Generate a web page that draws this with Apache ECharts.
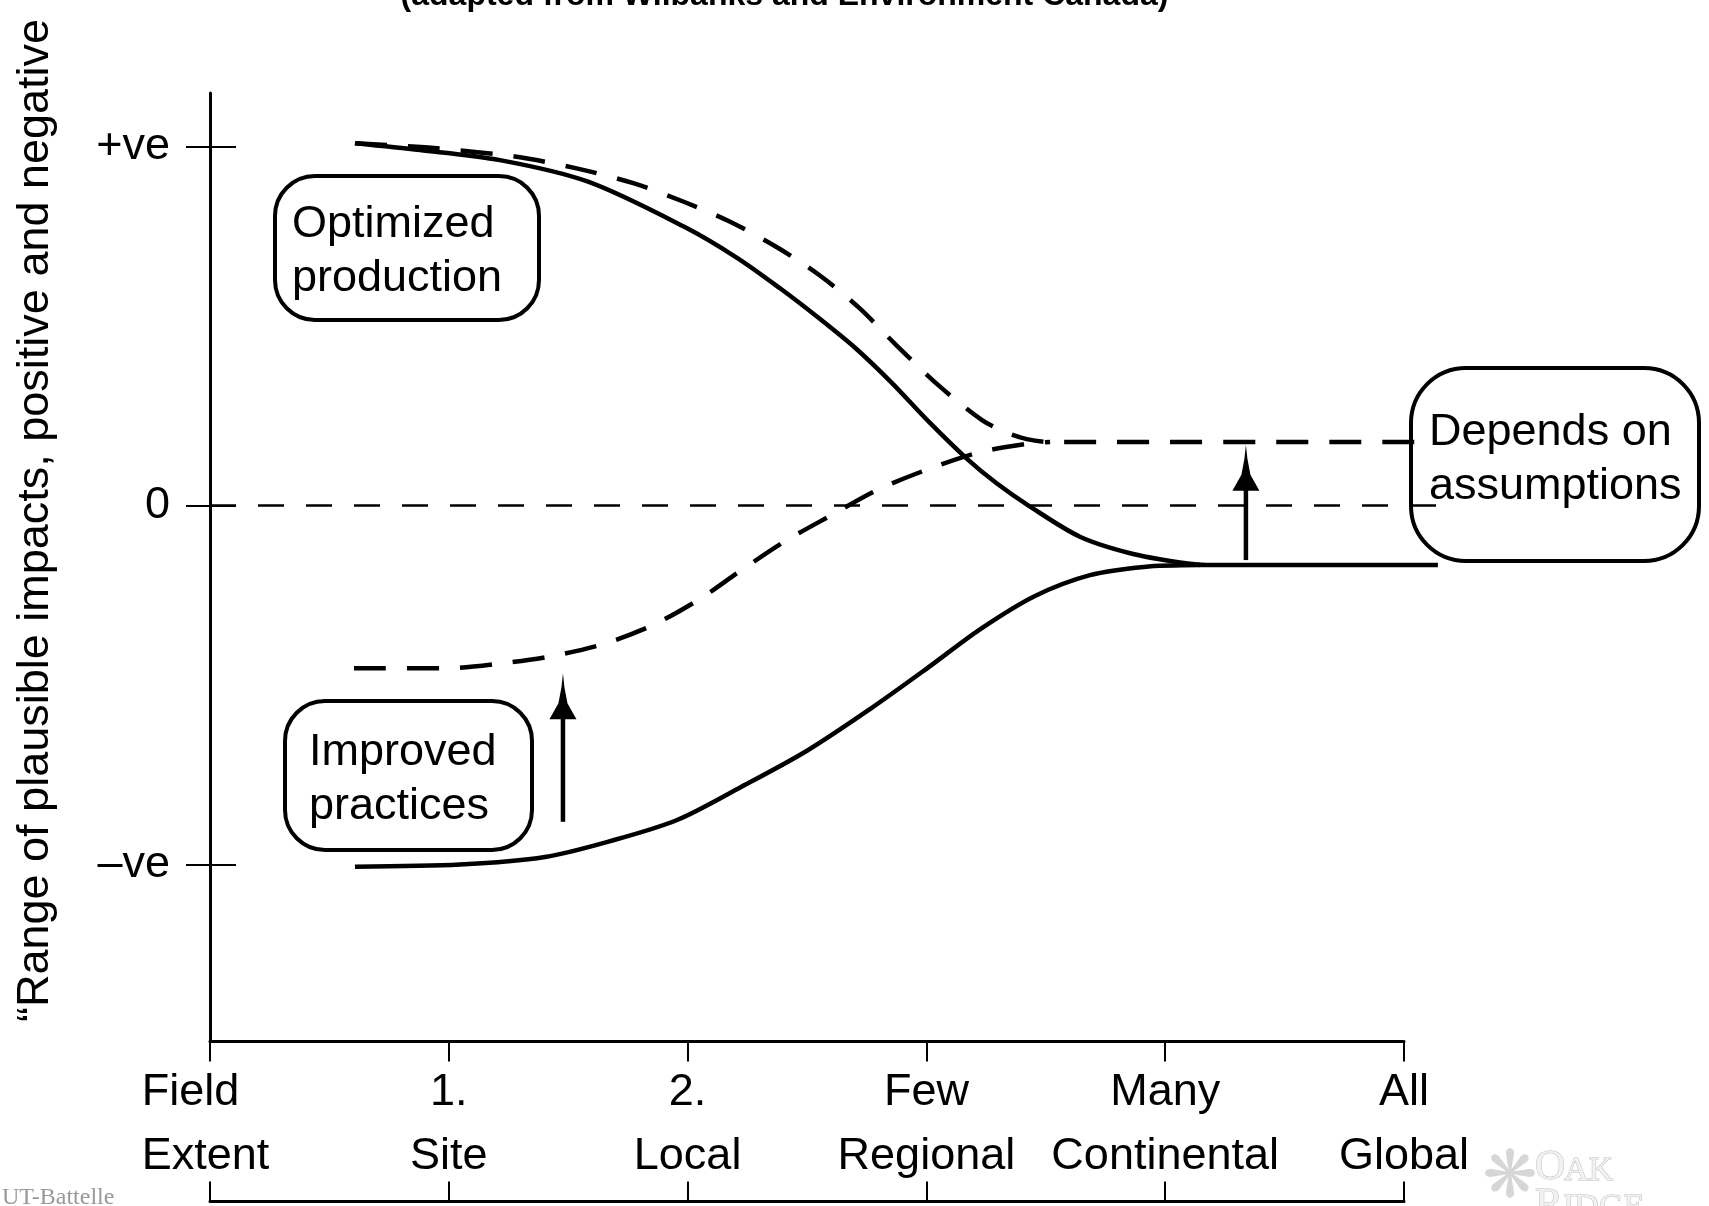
<!DOCTYPE html>
<html><head><meta charset="utf-8">
<script src="https://cdn.jsdelivr.net/npm/echarts@6/dist/echarts.min.js"></script>
<style>html,body{margin:0;padding:0;background:#fff}#c{width:1709px;height:1206px}</style>
</head><body><div id="c"></div>
<script>
// ---- data ----
const catTop = ['Field', '1.', '2.', 'Few', 'Many', 'All'];
const catBottom = ['Extent', 'Site', 'Local', 'Regional', 'Continental', 'Global'];
const yTickValues = [-1, 0, 1];
const yTickLabels = ['–ve', '0', '+ve'];

const optimizedSolid = [[0.607,1.009],[0.879,0.99],[1.214,0.962],[1.583,0.902],[1.984,0.777],[2.207,0.69],[2.387,0.605],[2.544,0.525],[2.7,0.44],[2.85,0.345],[3.015,0.23],[3.17,0.13],[3.294,0.062],[3.434,-0.003],[3.643,-0.087],[3.853,-0.133],[4.062,-0.159],[4.174,-0.166],[5.142,-0.166]];
const optimizedDashed = [[0.607,1.009],[0.95,0.995],[1.277,0.972],[1.535,0.939],[1.776,0.897],[1.984,0.846],[2.176,0.791],[2.383,0.716],[2.561,0.637],[2.721,0.549],[2.881,0.442],[3.057,0.331],[3.233,0.238],[3.33,0.205],[3.42,0.185],[3.518,0.177],[5.071,0.177]];
const improvedSolid = [[0.607,-1.006],[1.047,-1.0],[1.403,-0.979],[1.675,-0.935],[1.956,-0.876],[2.224,-0.784],[2.5,-0.683],[2.764,-0.567],[3.0,-0.455],[3.229,-0.343],[3.455,-0.252],[3.685,-0.194],[3.911,-0.171],[4.146,-0.166]];
const improvedDashed = [[0.603,-0.453],[0.997,-0.453],[1.219,-0.44],[1.436,-0.419],[1.646,-0.386],[1.855,-0.333],[2.052,-0.26],[2.219,-0.183],[2.412,-0.098],[2.605,-0.026],[2.797,0.044],[3.023,0.105],[3.233,0.15],[3.446,0.174],[3.518,0.177]];
const zeroLine = [[0,0],[5.142,0]];

// arrows: [x, tail value, tip value]
const arrows = [[1.478, -0.881, -0.467], [4.338, -0.152, 0.169]];

const titleText = '(adapted from Wilbanks and Environment Canada)';
const yAxisTitle = '\u201CRange of plausible impacts, positive and negative';
const boxTexts = ['Optimized\nproduction', 'Improved\npractices', 'Depends on\nassumptions'];

// ---- chart ----
const FF = '"Liberation Sans", Arial, Helvetica, sans-serif';
const SERIF = '"Liberation Serif", "Times New Roman", serif';
const W = 1709, H = 1206;
const YMIN = -1.493, YMAX = 1.149;
const XMAX = 5;
const GRID = {left: 210, right: 305, top: 93, bottom: 164.5};
// a second, wider grid (same scale) so curves may run past the last category
const pxPerX = (W - GRID.left - GRID.right) / XMAX;
const GRID2_RIGHT = 250;
const XMAX2 = (W - GRID.left - GRID2_RIGHT) / pxPerX;
const HEAD_H = 46, HEAD_W = 27;

const baseText = {fontFamily: FF, fontSize: 45, color: '#000', lineHeight: 64, align: 'center'};

const chart = echarts.init(document.getElementById('c'), null, {renderer: 'canvas'});

function lineSeries(data, dashed) {
  return {
    type: 'line', data: data, xAxisIndex: 2, yAxisIndex: 2,
    showSymbol: false, symbol: 'none', clip: false, silent: true,
    smooth: 0.3,
    lineStyle: {color: '#000', width: 4.5, type: dashed ? [32, 21] : 'solid', cap: 'butt'}
  };
}

function renderArrow(params, api) {
  const x = api.value(0);
  const p0 = api.coord([x, api.value(1)]);
  const p1 = api.coord([x, api.value(2)]);
  const cx = p1[0], ty = p1[1];
  const hw = HEAD_W / 2;
  return {
    type: 'group',
    children: [{
      type: 'line',
      shape: {x1: p0[0], y1: p0[1], x2: cx, y2: ty + HEAD_H * 0.8},
      style: {stroke: '#000', lineWidth: 4.5}
    }, {
      type: 'polygon',
      shape: {points: [
        [cx, ty], [cx + 1.5, ty + 14], [cx + 4.5, ty + 30], [cx + hw, ty + HEAD_H],
        [cx - hw, ty + HEAD_H], [cx - 4.5, ty + 30], [cx - 1.5, ty + 14]
      ]},
      style: {fill: '#000'}
    }]
  };
}

const hiddenAxis = {
  show: false, axisLine: {show: false, onZero: false}, axisTick: {show: false},
  axisLabel: {show: false}, splitLine: {show: false}
};

const option = {
  animation: false,
  backgroundColor: '#fff',
  grid: [
    Object.assign({containLabel: false, outerBoundsMode: 'none'}, GRID),
    {left: GRID.left, right: GRID2_RIGHT, top: GRID.top, bottom: GRID.bottom, containLabel: false, outerBoundsMode: 'none'}
  ],
  xAxis: [{
    type: 'value', gridIndex: 0, min: 0, max: XMAX, interval: 1, position: 'bottom',
    axisLine: {show: true, onZero: false, lineStyle: {color: '#000', width: 3}},
    axisTick: {show: true, length: 20, lineStyle: {color: '#000', width: 2}},
    splitLine: {show: false},
    axisLabel: {
      show: true, margin: 19, showMinLabel: true, showMaxLabel: true,
      formatter: function (v) {
        const i = Math.round(v);
        if (i === 0) return '{f1|' + catTop[i] + '}\n{f2|' + catBottom[i] + '}';
        return '{t|' + catTop[i] + '}\n{t|' + catBottom[i] + '}';
      },
      rich: {
        t: baseText,
        f1: Object.assign({}, baseText, {padding: [0, 39, 0, 0]}),
        f2: Object.assign({}, baseText, {padding: [0, 9, 0, 0]})
      }
    }
  }, {
    type: 'value', gridIndex: 0, min: 0, max: XMAX, interval: 1, position: 'bottom', offset: 160,
    axisLine: {show: true, onZero: false, lineStyle: {color: '#000', width: 3}},
    axisTick: {show: true, inside: true, length: 20, lineStyle: {color: '#000', width: 2}},
    axisLabel: {show: false}, splitLine: {show: false}
  }, Object.assign({type: 'value', gridIndex: 1, min: 0, max: XMAX2}, hiddenAxis)],
  yAxis: [{
    type: 'value', gridIndex: 0, min: YMIN, max: YMAX, position: 'left',
    axisLine: {show: true, onZero: false, lineStyle: {color: '#000', width: 3}},
    axisTick: {show: true, customValues: yTickValues, length: 24, lineStyle: {color: '#000', width: 2}},
    axisLabel: {
      show: true, customValues: yTickValues, margin: 40,
      formatter: function (v) { return yTickLabels[yTickValues.indexOf(v)]; },
      fontFamily: FF, fontSize: 45, color: '#000'
    },
    splitLine: {show: false}
  }, {
    type: 'value', gridIndex: 0, min: YMIN, max: YMAX, position: 'left',
    axisLine: {show: false, onZero: false},
    axisTick: {show: true, inside: true, customValues: yTickValues, length: 26, lineStyle: {color: '#000', width: 2}},
    axisLabel: {show: false}, splitLine: {show: false}
  }, Object.assign({type: 'value', gridIndex: 1, min: YMIN, max: YMAX}, hiddenAxis)],
  series: [
    lineSeries(optimizedSolid, false),
    lineSeries(improvedSolid, false),
    lineSeries(optimizedDashed, true),
    lineSeries(improvedDashed, true),
    {
      type: 'line', data: zeroLine, xAxisIndex: 2, yAxisIndex: 2,
      showSymbol: false, symbol: 'none', clip: false, silent: true,
      lineStyle: {color: '#000', width: 2.5, type: [26, 22]}
    },
    {
      type: 'custom', data: arrows, renderItem: renderArrow, clip: false, silent: true,
      xAxisIndex: 0, yAxisIndex: 0, encode: {x: 0, y: [1, 2]}
    }
  ],
  graphic: [
    {type: 'rect', silent: true, shape: {x: 275, y: 176, width: 264, height: 144, r: 40}, style: {fill: 'none', stroke: '#000', lineWidth: 4}},
    {type: 'rect', silent: true, shape: {x: 285, y: 701, width: 247, height: 149, r: 40}, style: {fill: 'none', stroke: '#000', lineWidth: 4}},
    {type: 'rect', silent: true, shape: {x: 1411, y: 368, width: 288, height: 193, r: 55}, style: {fill: 'none', stroke: '#000', lineWidth: 4}},
    {type: 'text', silent: true, x: 292, y: 198, style: {text: boxTexts[0], fontFamily: FF, fontSize: 45, lineHeight: 54, fill: '#000', align: 'left', verticalAlign: 'top'}},
    {type: 'text', silent: true, x: 309, y: 726, style: {text: boxTexts[1], fontFamily: FF, fontSize: 45, lineHeight: 54, fill: '#000', align: 'left', verticalAlign: 'top'}},
    {type: 'text', silent: true, x: 1429, y: 406, style: {text: boxTexts[2], fontFamily: FF, fontSize: 45, lineHeight: 54, fill: '#000', align: 'left', verticalAlign: 'top'}},
    {type: 'text', silent: true, x: 784.5, y: -4, style: {text: titleText, fontFamily: FF, fontSize: 32, fontWeight: 'bold', fill: '#000', align: 'center', verticalAlign: 'middle'}},
    {type: 'text', silent: true, x: 35.5, y: 1022, rotation: Math.PI / 2, style: {text: yAxisTitle, fontFamily: FF, fontSize: 45, fill: '#000', align: 'left', verticalAlign: 'middle'}},
    {type: 'text', silent: true, x: 2, y: 1198, style: {text: 'UT-Battelle', fontFamily: SERIF, fontSize: 24, fill: '#999', align: 'left', verticalAlign: 'middle'}},
    {type: 'text', silent: true, x: 1510, y: 1180, style: {text: '\u274B', fontFamily: '"DejaVu Sans", sans-serif', fontSize: 66, fill: '#d6d6d6', align: 'center', verticalAlign: 'middle'}},
    {type: 'text', silent: true, x: 1535, y: 1168, style: {text: 'O', fontFamily: SERIF, fontSize: 42, fill: '#f2f2f2', stroke: '#bdbdbd', lineWidth: 1, align: 'left', verticalAlign: 'middle'}},
    {type: 'text', silent: true, x: 1564, y: 1171, style: {text: 'AK', fontFamily: SERIF, fontSize: 34, fill: '#f2f2f2', stroke: '#bdbdbd', lineWidth: 1, align: 'left', verticalAlign: 'middle'}},
    {type: 'text', silent: true, x: 1535, y: 1206, style: {text: 'R', fontFamily: SERIF, fontSize: 42, fill: '#f2f2f2', stroke: '#bdbdbd', lineWidth: 1, align: 'left', verticalAlign: 'middle'}},
    {type: 'text', silent: true, x: 1563, y: 1208, style: {text: 'IDGE', fontFamily: SERIF, fontSize: 34, fill: '#f2f2f2', stroke: '#bdbdbd', lineWidth: 1, align: 'left', verticalAlign: 'middle'}}
  ]
};
chart.setOption(option);
</script>
</body></html>
